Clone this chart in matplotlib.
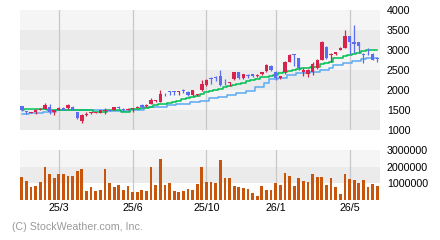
import numpy as np
import matplotlib
matplotlib.use("Agg")
import matplotlib.pyplot as plt

plt.rcParams["font.family"] = ["Liberation Sans", "DejaVu Sans"]

# weekly candles (red = up, blue = down)
opens = [1600, 1460, 1430, 1450, 1500, 1530, 1575, 1450, 1500, 1550,
         1550, 1580, 1450, 1220, 1385, 1420, 1430, 1430, 1480, 1500,
         1500, 1580, 1530, 1500, 1520, 1550, 1615, 1590, 1660, 1720,
         1700, 1900, 1965, 1960, 1955, 1985, 1960, 1870, 1870, 1990,
         2120, 2280, 2330, 2350, 2200, 2180, 2270, 2450, 2290, 2360,
         2390, 2340, 2395, 2475, 2600, 2450, 2300, 2440, 2710, 2890,
         2790, 2450, 2400, 2460, 2560, 2760, 3080, 2880, 2900, 3000,
         3060, 3350, 3200, 3200, 2900, 2960, 2900, 2790]
highs = [1600, 1483, 1450, 1525, 1540, 1675, 1650, 1510, 1580, 1570,
         1660, 1590, 1460, 1400, 1450, 1460, 1450, 1510, 1540, 1510,
         1580, 1590, 1540, 1540, 1560, 1590, 1660, 1650, 1800, 1750,
         2010, 1920, 1970, 1965, 1968, 2020, 1965, 2010, 1910, 2250,
         2270, 2320, 2360, 2500, 2280, 2200, 2460, 2460, 2400, 2400,
         2400, 2400, 2460, 2640, 2620, 2480, 2360, 2720, 2900, 2900,
         2800, 2550, 2520, 2700, 2780, 3230, 3100, 2930, 2960, 3070,
         3500, 3360, 3620, 3210, 2920, 3040, 2920, 2830]
lows = [1480, 1400, 1420, 1410, 1490, 1530, 1400, 1380, 1490, 1490,
        1530, 1500, 1270, 1180, 1350, 1410, 1420, 1420, 1400, 1470,
        1490, 1530, 1480, 1490, 1450, 1540, 1540, 1575, 1640, 1700,
        1690, 1860, 1880, 1880, 1880, 1920, 1860, 1860, 1850, 1980,
        2100, 2150, 2220, 2110, 2120, 2100, 2250, 2280, 2280, 2300,
        2330, 2320, 2380, 2460, 2480, 2260, 2280, 2400, 2700, 2600,
        2500, 2340, 2330, 2380, 2530, 2740, 2780, 2700, 2880, 2990,
        3040, 2900, 2920, 2920, 2680, 2880, 2740, 2700]
closes = [1490, 1450, 1440, 1490, 1530, 1615, 1450, 1500, 1560, 1500,
          1615, 1510, 1300, 1380, 1405, 1450, 1445, 1500, 1490, 1480,
          1575, 1540, 1500, 1530, 1550, 1570, 1580, 1630, 1760, 1735,
          1900, 1890, 1955, 1955, 1965, 1975, 1880, 2000, 1890, 2150,
          2250, 2270, 2290, 2120, 2190, 2190, 2450, 2300, 2390, 2350,
          2340, 2370, 2440, 2625, 2500, 2300, 2340, 2700, 2870, 2870,
          2560, 2500, 2500, 2650, 2760, 3200, 2800, 2910, 2940, 3040,
          3360, 3190, 3150, 3100, 2880, 2940, 2760, 2770]

# moving averages
ma_short = [1500, 1525, 1525, 1525, 1525, 1525, 1500, 1500, 1500, 1500,
            1500, 1500, 1500, 1500, 1500, 1500, 1450, 1450, 1450, 1500,
            1500, 1500, 1450, 1450, 1515, 1515, 1540, 1560, 1585, 1615,
            1640, 1660, 1685, 1710, 1730, 1765, 1790, 1820, 1850, 1900,
            1940, 1970, 2000, 2035, 2085, 2100, 2130, 2150, 2180, 2215,
            2240, 2285, 2320, 2330, 2340, 2385, 2430, 2450, 2480, 2500,
            2520, 2540, 2545, 2570, 2585, 2640, 2670, 2710, 2790, 2810,
            2850, 2880, 2900, 2920, 2980, 2990, 3000, 3000]
ma_long = [1400, 1400, 1420, 1420, 1420, 1440, 1440, 1440, 1490, 1490,
           1490, 1490, 1490, 1490, 1490, 1490, 1510, 1510, 1510, 1470,
           1470, 1470, 1470, 1470, 1500, 1500, 1500, 1565, 1565, 1565,
           1585, 1585, 1615, 1615, 1640, 1640, 1640, 1690, 1690, 1735,
           1735, 1790, 1790, 1835, 1835, 1875, 1875, 1915, 1915, 1985,
           1985, 2065, 2065, 2180, 2265, 2265, 2290, 2290, 2375, 2375,
           2415, 2415, 2415, 2455, 2455, 2500, 2500, 2555, 2615, 2615,
           2665, 2665, 2725, 2725, 2765, 2790, 2790, 2790]

volume = [1.38, 1.14, 0.78, 0.84, 1.08, 1.98, 1.56, 1.32, 1.56, 1.56,
          1.44, 1.44, 1.74, 1.86, 0.54, 0.78, 0.54, 0.60, 1.86, 1.02,
          0.78, 0.90, 0.60, 0.84, 0.48, 0.48, 0.60, 0.54, 1.98, 0.90,
          2.46, 0.90, 1.02, 0.54, 0.48, 0.54, 0.66, 0.60, 0.96, 1.98,
          1.08, 1.08, 1.02, 2.40, 1.32, 1.32, 0.84, 0.78, 0.72, 0.66,
          0.42, 0.24, 0.84, 0.60, 0.60, 1.02, 0.90, 1.62, 1.44, 0.84,
          1.32, 1.14, 1.08, 1.56, 1.38, 1.38, 0.90, 1.32, 0.78, 0.36,
          1.56, 1.26, 1.20, 1.02, 1.20, 0.78, 0.96, 0.84]  # millions

month_pos = [8, 24, 40, 55, 71]
month_labels = ["25/3", "25/6", "25/10", "26/1", "26/5"]
price_ticks = [1000, 1500, 2000, 2500, 3000, 3500, 4000]
vol_ticks = [1000000, 2000000, 3000000]

RED = "#d8234c"
BLUE = "#5b6ef2"
FS = 7.7


def main():
    o = np.array(opens)
    h = np.array(highs)
    l = np.array(lows)
    c = np.array(closes)
    x = np.arange(len(o))
    up = c >= o
    colors = np.where(up, RED, BLUE)

    fig = plt.figure(figsize=(4.4, 2.4), dpi=100)
    ax = fig.add_axes([20 / 440, 110 / 240, 360 / 440, 120 / 240])
    axv = fig.add_axes([20 / 440, 40 / 240, 360 / 440, 50 / 240])

    # background bands
    for lo in range(1000, 4000, 500):
        shade = "#ebebeb" if (lo // 500) % 2 == 0 else "#f5f5f5"
        ax.axhspan(lo, lo + 500, color=shade, lw=0, zorder=0)
    axv.axhspan(1e6, 2e6, color="#ebebeb", lw=0, zorder=0)
    axv.axhspan(2e6, 3e6, color="#f5f5f5", lw=0, zorder=0)

    for a in (ax, axv):
        for p in month_pos:
            a.axvline(p, color="#c8c8c8", lw=0.9, zorder=1)
        a.set_xlim(-0.4, len(o) - 0.4)
        for s in a.spines.values():
            s.set_visible(False)
        a.yaxis.tick_right()
        a.tick_params(length=0, labelsize=FS, pad=5)

    # moving averages
    ax.plot(x, ma_long, drawstyle="steps-mid", color="#5aaaf2", lw=1.1, zorder=2)
    ax.plot(x, ma_short, drawstyle="steps-mid", color="#00c050", lw=1.1, zorder=2)

    # candles
    ax.vlines(x, l, h, colors=colors, lw=0.9, zorder=3)
    body = np.maximum(np.abs(c - o), 20)
    ax.bar(x, body, bottom=np.minimum(o, c), width=0.72, color=colors, lw=0, zorder=4)

    ax.set_ylim(1000, 4000)
    ax.set_yticks(price_ticks)
    ax.set_yticklabels([str(t) for t in price_ticks])
    ax.set_xticks([])

    # volume
    axv.bar(x, np.array(volume) * 1e6, width=0.6, color="#c8550c", lw=0, zorder=2)
    axv.set_ylim(0, 3e6)
    axv.set_yticks(vol_ticks)
    axv.set_yticklabels([str(t) for t in vol_ticks])
    axv.set_xticks(month_pos)
    axv.set_xticklabels(month_labels)
    axv.tick_params(axis="x", pad=2)

    fig.text(12 / 440, 1 - 227 / 240, "(C) StockWeather.com, Inc.",
             color="#9a9a9a", fontsize=FS, va="center")

    fig.savefig("out.png", dpi=100)


if __name__ == "__main__":
    main()
